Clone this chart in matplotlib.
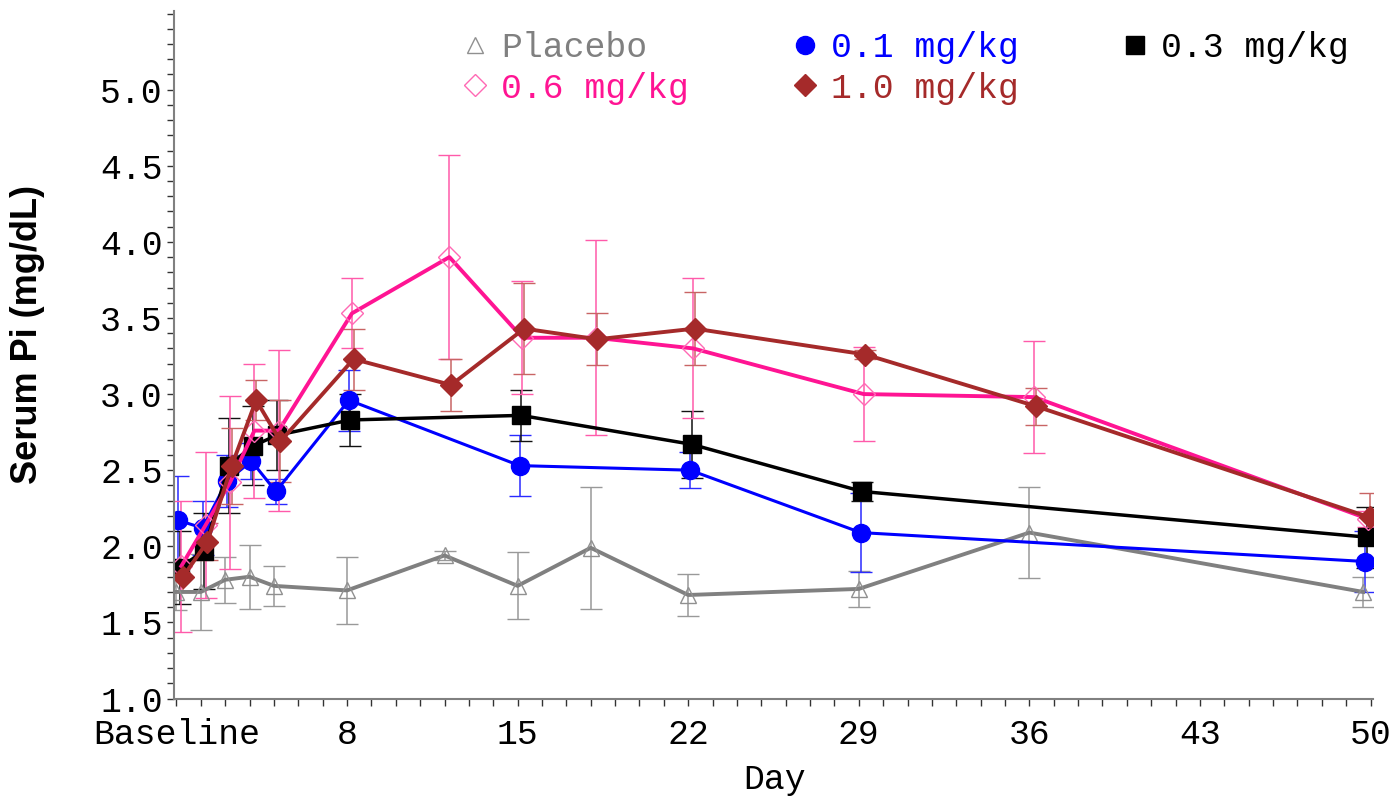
import numpy as np
import matplotlib
matplotlib.use('Agg')
import matplotlib.pyplot as plt
from matplotlib.lines import Line2D

# visit days (last visit sits a bit before day 50 on the axis)
days_all = [1, 2, 3, 4, 5, 8, 12, 15, 18, 22, 29, 36, 49.7]
days_sub = [1, 2, 3, 4, 5, 8, 15, 22, 29, 49.7]

placebo = [1.70, 1.70, 1.78, 1.80, 1.74, 1.71, 1.94, 1.74, 1.99, 1.68, 1.72, 2.09, 1.70]
placebo_err = [0.12, 0.25, 0.15, 0.21, 0.13, 0.22, 0.03, 0.22, 0.40, 0.14, 0.12, 0.30, 0.10]

dose01 = [2.17, 2.12, 2.43, 2.56, 2.36, 2.96, 2.53, 2.50, 2.09, 1.90]
dose01_err = [0.29, 0.18, 0.17, 0.12, 0.08, 0.20, 0.20, 0.12, 0.26, 0.20]

dose03 = [1.86, 1.97, 2.53, 2.66, 2.73, 2.83, 2.86, 2.67, 2.36, 2.06]
dose03_err = [0.24, 0.25, 0.31, 0.26, 0.23, 0.17, 0.17, 0.22, 0.06, 0.20]

dose06 = [1.87, 2.14, 2.42, 2.76, 2.76, 3.53, 3.90, 3.37, 3.37, 3.30, 3.00, 2.98, 2.18]
dose06_err = [0.43, 0.48, 0.57, 0.44, 0.53, 0.23, 0.67, 0.37, 0.64, 0.46, 0.31, 0.37, 0.05]

dose10 = [1.80, 2.03, 2.53, 2.96, 2.69, 3.23, 3.06, 3.43, 3.36, 3.43, 3.26, 2.92, 2.19]
dose10_err = [0.10, 0.12, 0.25, 0.13, 0.27, 0.20, 0.17, 0.30, 0.17, 0.24, 0.03, 0.12, 0.16]

xticks = [1, 8, 15, 22, 29, 36, 43, 50]
xticklabels = ['Baseline', '8', '15', '22', '29', '36', '43', '50']
yticks = [1.0, 1.5, 2.0, 2.5, 3.0, 3.5, 4.0, 4.5, 5.0]

mono = 'Liberation Mono'

fig = plt.figure(figsize=(13.93, 7.96), dpi=100)
ax = fig.add_axes([174/1393, 1-698.5/796, 1199/1393, 688/796])

# series: (name, days, values, errors, dodge, line colour, errbar colour, marker, ms, mfc, mec, lw)
series = [
    ('Placebo', days_all, placebo, placebo_err, 0.0, '#808080', '#999999', '^', 12, 'none', '#909090', 2.8),
    ('0.1 mg/kg', days_sub, dose01, dose01_err, 0.08, '#0000FF', '#2a2aff', 'o', 13, '#0000FF', '#0000FF', 2.2),
    ('0.3 mg/kg', days_sub, dose03, dose03_err, 0.14, '#000000', '#111111', 's', 12.5, '#000000', '#000000', 2.5),
    ('0.6 mg/kg', days_all, dose06, dose06_err, 0.20, '#FF1493', '#FF5AAA', 'D', 11.5, 'none', '#FF69B4', 2.8),
    ('1.0 mg/kg', days_all, dose10, dose10_err, 0.27, '#A52A2A', '#C86464', 'D', 11.5, '#A52A2A', '#A52A2A', 2.8),
]

for name, d, v, e, dodge, col, ecol, mk, ms, mfc, mec, lw in series:
    x = np.array(d) + dodge
    ax.errorbar(x, v, yerr=e, color=col, ecolor=ecol, elinewidth=1.1, capsize=8,
                capthick=1.1, marker=mk, ms=ms, mfc=mfc, mec=mec, mew=1.0, lw=lw)

ax.set_xlim(0.9, 50.1)
ax.set_ylim(1.0, 5.52)
ax.set_xticks(xticks)
ax.set_xticklabels(xticklabels)
ax.set_xticks(np.arange(1, 51), minor=True)
ax.set_yticks(yticks)
ax.set_yticklabels(['%.1f' % t for t in yticks])
ax.set_yticks(np.arange(1.0, 5.51, 0.1), minor=True)

for s in ['top', 'right']:
    ax.spines[s].set_visible(False)
for s in ['left', 'bottom']:
    ax.spines[s].set_color('#808080')
    ax.spines[s].set_linewidth(1.5)

ax.tick_params(which='both', direction='out', length=5, width=1, color='#333333')
ax.tick_params(axis='x', which='major', labelsize=25, pad=9)
ax.tick_params(axis='y', which='major', labelsize=25, pad=3)
for lab in ax.get_xticklabels() + ax.get_yticklabels():
    lab.set_fontfamily(mono)

fig.text(28/1393, 1-334/796, 'Serum Pi (mg/dL)', rotation=90, ha='center', va='center',
         fontsize=26, fontweight='bold', family='Liberation Sans')
fig.text(775/1393, 1-780/796, 'Day', ha='center', va='center', fontsize=25, family=mono)

# legend: order fills columns first
handles = []
colors = []
for name, d, v, e, dodge, col, ecol, mk, ms, mfc, mec, lw in series:
    handles.append(Line2D([], [], ls='none', marker=mk, ms=ms, mfc=mfc, mec=mec, mew=1.0, label=name))
    colors.append(col)
order = [0, 3, 1, 4, 2]
leg = fig.legend([handles[i] for i in order], [series[i][0] for i in order],
                 loc='upper left', bbox_to_anchor=(461/1393, 1-31/796), ncol=3,
                 frameon=False, borderpad=0, borderaxespad=0, handlelength=0.8,
                 handletextpad=0.35, columnspacing=2.95, labelspacing=0.22,
                 prop={'family': mono, 'size': 25})
for txt, i in zip(leg.get_texts(), order):
    txt.set_color(colors[i])

fig.savefig('out.png', dpi=100)
